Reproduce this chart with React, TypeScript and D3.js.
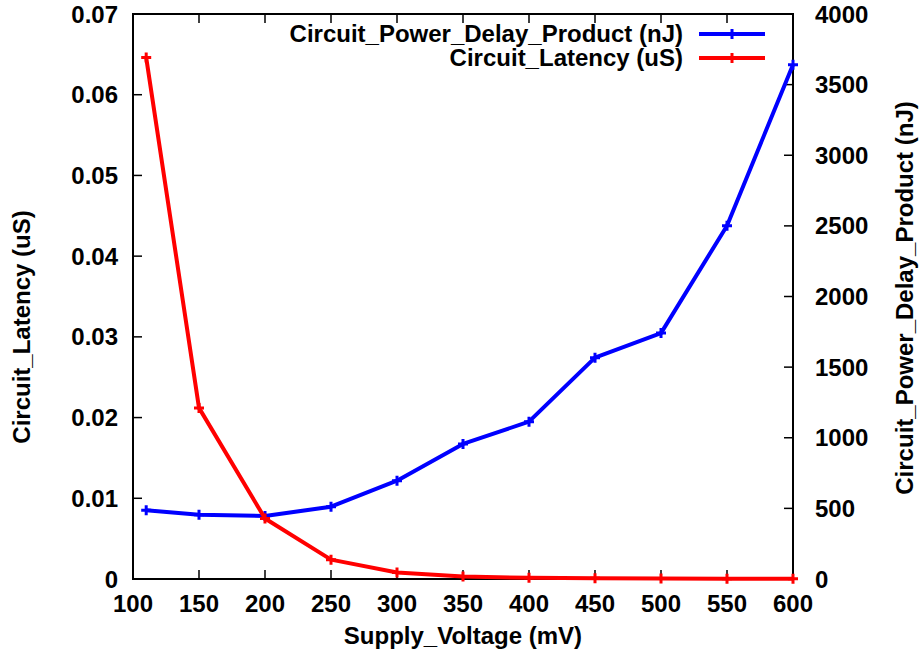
import React from "react";
import * as d3 from "d3";

const voltages = [110, 150, 200, 250, 300, 350, 400, 450, 500, 550, 600];
const latency = [0.0646, 0.0212, 0.0075, 0.0024, 0.0008, 0.0003, 0.00015, 0.00008, 0.00005, 0.00003, 0.00002];
const pdp = [486, 455, 446, 512, 696, 956, 1114, 1567, 1741, 2501, 3641];
const xTicks = [100, 150, 200, 250, 300, 350, 400, 450, 500, 550, 600];
const yTicks = [0, 0.01, 0.02, 0.03, 0.04, 0.05, 0.06, 0.07];
const y2Ticks = [0, 500, 1000, 1500, 2000, 2500, 3000, 3500, 4000];
const yTickLabels = ["0", "0.01", "0.02", "0.03", "0.04", "0.05", "0.06", "0.07"];

const L = 133, R = 793, T = 14, B = 579;
const FONT = "'Liberation Sans', Arial, sans-serif";
const FS = 24;
const TICK = 9;

function plusPath(x: number, y: number, s: number) {
  return `M${x - s},${y}H${x + s}M${x},${y - s}V${y + s}`;
}

export default function App() {
  const x = d3.scaleLinear().domain([100, 600]).range([L, R]);
  const y = d3.scaleLinear().domain([0, 0.07]).range([B, T]);
  const y2 = d3.scaleLinear().domain([0, 4000]).range([B, T]);

  const pdpData = voltages.map((v, i) => [v, pdp[i]] as [number, number]);
  const latData = voltages.map((v, i) => [v, latency[i]] as [number, number]);

  const linePdp = d3.line<[number, number]>().x(d => x(d[0])).y(d => y2(d[1]));
  const lineLat = d3.line<[number, number]>().x(d => x(d[0])).y(d => y(d[1]));

  const series = [
    { name: "Circuit_Power_Delay_Product (nJ)", color: "#0000ff", path: linePdp(pdpData)!, pts: pdpData.map(d => [x(d[0]), y2(d[1])]) },
    { name: "Circuit_Latency (uS)", color: "#ff0000", path: lineLat(latData)!, pts: latData.map(d => [x(d[0]), y(d[1])]) },
  ];

  return (
    <svg width={920} height={660} style={{ position: "absolute", left: 0, top: 0, background: "#fff" }} fontFamily={FONT} fontWeight="bold" fontSize={FS}>
      <rect x={0} y={0} width={920} height={660} fill="#fff" />
      {xTicks.map(t => (
        <g key={"x" + t}>
          <line x1={x(t)} x2={x(t)} y1={B} y2={B - TICK} stroke="#000" strokeWidth={1.5} />
          <line x1={x(t)} x2={x(t)} y1={T} y2={T + TICK} stroke="#000" strokeWidth={1.5} />
          <text x={x(t)} y={612} textAnchor="middle">{t}</text>
        </g>
      ))}
      {yTicks.map((t, i) => (
        <g key={"y" + t}>
          <line x1={L} x2={L + TICK} y1={y(t)} y2={y(t)} stroke="#000" strokeWidth={1.5} />
          <text x={118} y={y(t) + 8.5} textAnchor="end">{yTickLabels[i]}</text>
        </g>
      ))}
      {y2Ticks.map(t => (
        <g key={"y2" + t}>
          <line x1={R} x2={R - TICK} y1={y2(t)} y2={y2(t)} stroke="#000" strokeWidth={1.5} />
          <text x={815} y={y2(t) + 8.5} textAnchor="start">{t}</text>
        </g>
      ))}
      <rect x={L} y={T} width={R - L} height={B - T} fill="none" stroke="#000" strokeWidth={2} />
      <text x={463} y={644} textAnchor="middle">Supply_Voltage (mV)</text>
      <text transform={`translate(30,327) rotate(-90)`} textAnchor="middle">Circuit_Latency (uS)</text>
      <text transform={`translate(913,298) rotate(-90)`} textAnchor="middle">Circuit_Power_Delay_Product (nJ)</text>
      {series.map(s => (
        <g key={s.name}>
          <path d={s.path} fill="none" stroke={s.color} strokeWidth={4} strokeLinejoin="round" />
          {s.pts.map((p, i) => (
            <path key={i} d={plusPath(p[0], p[1], 5)} stroke={s.color} strokeWidth={3} />
          ))}
        </g>
      ))}
      {series.map((s, i) => {
        const ly = 34 + i * 24;
        return (
          <g key={"leg" + i}>
            <text x={683} y={ly + 8} textAnchor="end">{s.name}</text>
            <line x1={699} x2={765} y1={ly} y2={ly} stroke={s.color} strokeWidth={4} />
            <path d={plusPath(732, ly, 5)} stroke={s.color} strokeWidth={3} />
          </g>
        );
      })}
    </svg>
  );
}
